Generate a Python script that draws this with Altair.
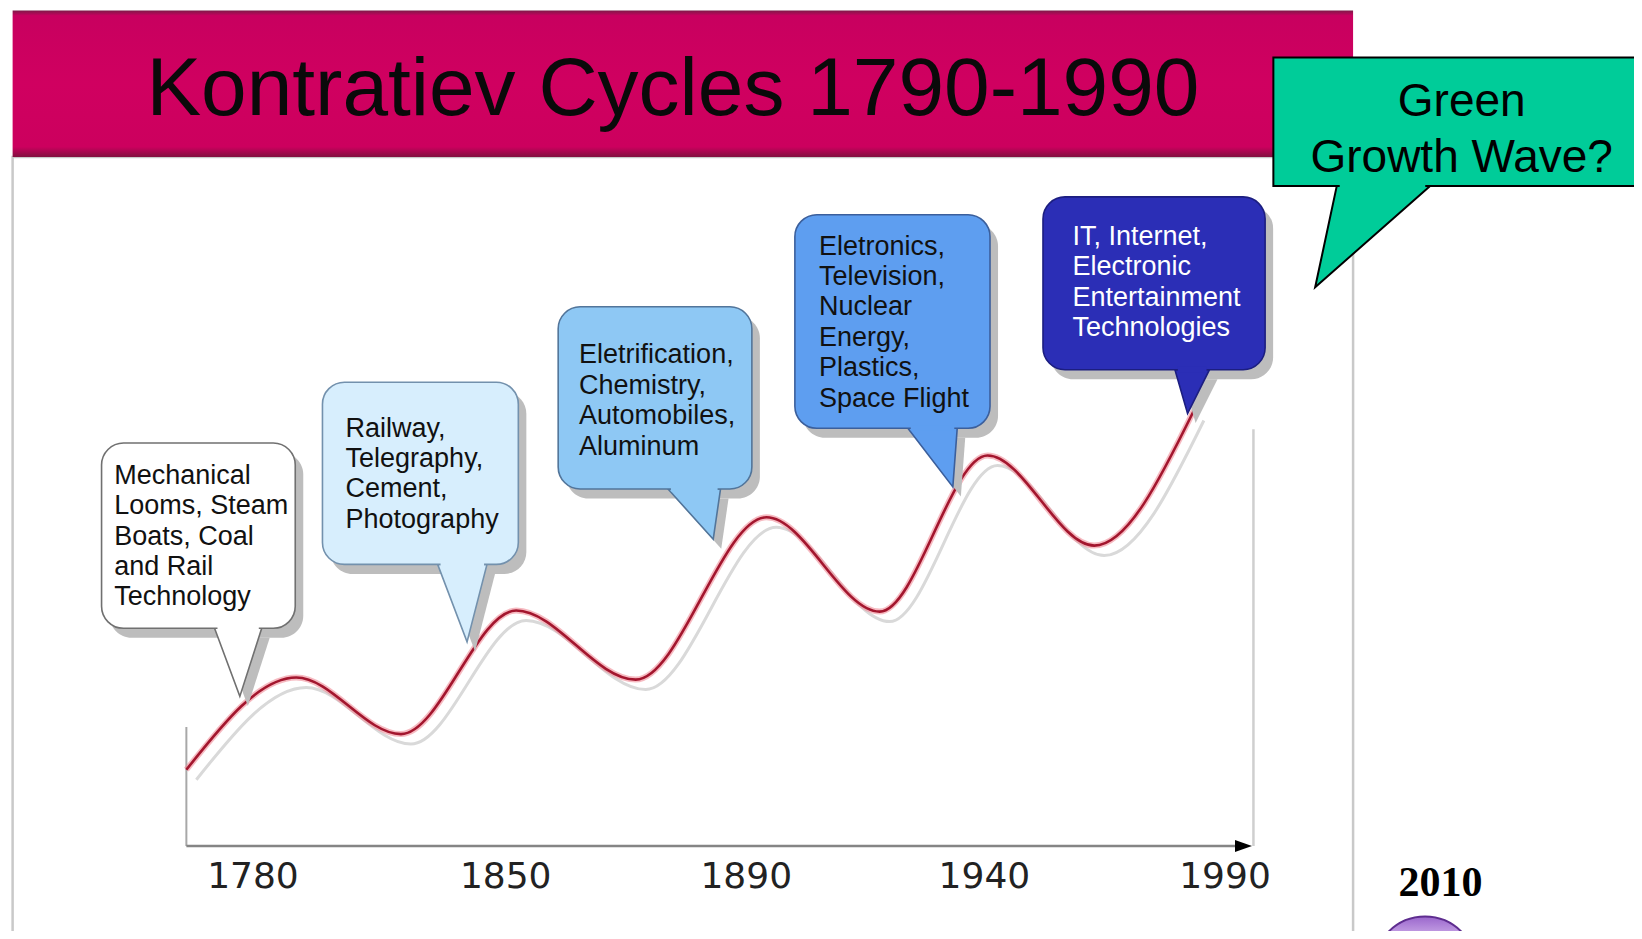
import altair as alt
import pandas as pd

# ---------------- data ----------------
# wave: position along the cycle axis (tick index space) and activity level
wave_pos = [-0.274, 0.178, 0.609, 1.083, 1.575, 2.113, 2.579, 3.023, 3.462, 3.872]
wave_val = [0.763, 1.685, 1.119, 2.355, 1.664, 3.287, 2.344, 3.905, 3.004, 4.355]

tick_pos = [0.0, 1.04, 2.03, 3.01, 4.0]
tick_labels = ["1780", "1850", "1890", "1940", "1990"]

title_text = "Kontratiev Cycles 1790-1990"
wave_texts = [
    ["Mechanical", "Looms, Steam", "Boats, Coal", "and Rail", "Technology"],
    ["Railway,", "Telegraphy,", "Cement,", "Photography"],
    ["Eletrification,", "Chemistry,", "Automobiles,", "Aluminum"],
    ["Eletronics,", "Television,", "Nuclear", "Energy,", "Plastics,", "Space Flight"],
    ["IT, Internet,", "Electronic", "Entertainment", "Technologies"],
]
callout_lines = ["Green", "Growth Wave?"]
year_label = "2010"

# ---------------- annotation layout (in data units) ----------------
box_left = [-0.623, 0.286, 1.256, 2.230, 3.251]
box_right = [0.174, 1.092, 2.053, 3.033, 4.165]
box_top = [4.030, 4.638, 5.392, 6.313, 6.491]
box_bottom = [2.177, 2.816, 3.570, 4.177, 4.763]
tail_left = [-0.158, 0.760, 1.708, 2.695, 3.794]
tail_right = [0.036, 0.963, 1.924, 2.898, 3.936]
tail_tip_x = [-0.054, 0.881, 1.894, 2.880, 3.846]
tail_tip_y = [1.496, 2.041, 3.067, 3.591, 4.324]
text_x = [-0.571, 0.381, 1.342, 2.329, 3.372]
text_y = [3.622, 4.093, 4.826, 5.915, 6.010]
box_fill = ["#ffffff", "#d7eefd", "#8ec8f4", "#5e9ef0", "#2b2eb6"]
box_stroke = ["#707070", "#7391ad", "#52759a", "#3b5f9c", "#1c1e80"]
text_color = ["#111111", "#111111", "#111111", "#111111", "#ffffff"]

# green callout
g_left, g_right, g_top, g_bottom = 4.199, 5.80, 7.884, 6.601
g_tail_left, g_tail_right, g_tip_x, g_tip_y = 4.460, 4.844, 4.371, 5.587
g_text_x, g_text_y = 4.974, 7.300

XS = alt.Scale(domain=[-1.008, 5.683], nice=False, zero=False)
YS = alt.Scale(domain=[-0.85, 8.38], nice=False, zero=False)


def X(f, **kw):
    return alt.X(f, type="quantitative", scale=XS, axis=None, **kw)


def Y(f, **kw):
    return alt.Y(f, type="quantitative", scale=YS, axis=None, **kw)


# ---------------- frame and title band ----------------
frame = alt.Chart(pd.DataFrame({"x0": [-0.989], "x1": [4.527], "y0": [-0.912], "y1": [6.889]})).mark_rect(
    fill="white", stroke="#c9c9c9", strokeWidth=2.5
).encode(x=X("x0"), x2=alt.X2("x1"), y=Y("y0"), y2=alt.Y2("y1"))

band_grad = alt.Gradient(
    gradient="linear",
    stops=[
        alt.GradientStop(offset=0, color="#7d1a48"),
        alt.GradientStop(offset=0.035, color="#c8005f"),
        alt.GradientStop(offset=0.5, color="#d00060"),
        alt.GradientStop(offset=0.93, color="#cc005e"),
        alt.GradientStop(offset=1, color="#80103f"),
    ],
    x1=0, x2=0, y1=0, y2=1,
)
band = alt.Chart(pd.DataFrame({"x0": [-0.989], "x1": [4.527], "y0": [6.889], "y1": [8.355]})).mark_rect(
    fill=band_grad
).encode(x=X("x0"), x2=alt.X2("x1"), y=Y("y0"), y2=alt.Y2("y1"))

title = alt.Chart(pd.DataFrame({"x": [1.728], "y": [7.308], "t": [title_text]})).mark_text(
    font="Liberation Sans", fontSize=82, color="#0a0a0a", align="center", baseline="alphabetic"
).encode(x=X("x"), y=Y("y"), text="t:N")

# ---------------- axes ----------------
axis_df = pd.DataFrame({"x0": [-0.274], "x1": [4.07], "y": [0.0]})
x_axis = alt.Chart(axis_df).mark_rule(color="#858585", strokeWidth=2.5).encode(
    x=X("x0"), x2=alt.X2("x1"), y=Y("y")
)
left_line = alt.Chart(pd.DataFrame({"x": [-0.274], "y0": [0.0], "y1": [1.19]})).mark_rule(
    color="#a8a8a8", strokeWidth=2
).encode(x=X("x"), y=Y("y0"), y2=alt.Y2("y1"))
right_line = alt.Chart(pd.DataFrame({"x": [4.117], "y0": [0.0], "y1": [4.167]})).mark_rule(
    color="#cfcfcf", strokeWidth=2.5
).encode(x=X("x"), y=Y("y0"), y2=alt.Y2("y1"))
arrow = alt.Chart(pd.DataFrame({"x": [4.076], "y": [0.0]})).mark_point(
    shape="M-1,-0.7L1,0L-1,0.7Z", size=289, filled=True, color="black", opacity=1
).encode(x=X("x"), y=Y("y"))

ticks = alt.Chart(pd.DataFrame({"x": tick_pos, "y": [-0.42] * len(tick_pos), "t": tick_labels})).mark_text(
    font="DejaVu Sans", fontSize=36, color="#222222", align="center", baseline="alphabetic"
).encode(x=X("x"), y=Y("y"), text="t:N")

# ---------------- wave ----------------
wave = pd.DataFrame({"u": wave_pos, "v": wave_val})
wave_shadow = alt.Chart(wave).transform_calculate(
    us="datum.u + 0.041", vs="datum.v - 0.10"
).mark_line(color="#d9d9d9", strokeWidth=3, interpolate="monotone").encode(
    x=X("us"), y=Y("vs")
)
wave_halo = alt.Chart(wave).mark_line(
    color="#f08c98", strokeWidth=6, opacity=0.6, interpolate="monotone"
).encode(x=X("u"), y=Y("v"))
wave_core = alt.Chart(wave).mark_line(
    color="#a3162e", strokeWidth=2.6, interpolate="monotone"
).encode(x=X("u"), y=Y("v"))

# ---------------- speech bubbles ----------------
n = len(wave_texts)
boxes = pd.DataFrame({
    "id": list(range(n)), "x0": box_left, "x1": box_right, "y0": box_bottom, "y1": box_top,
    "fill": box_fill, "stroke": box_stroke,
})
tail_rows = []
for i in range(n):
    tail_rows.append({"id": i, "y": box_bottom[i], "xa": tail_left[i], "xb": tail_right[i],
                      "fill": box_fill[i], "stroke": box_stroke[i]})
    tail_rows.append({"id": i, "y": tail_tip_y[i], "xa": tail_tip_x[i], "xb": tail_tip_x[i],
                      "fill": box_fill[i], "stroke": box_stroke[i]})
tails = pd.DataFrame(tail_rows)
covers = pd.DataFrame({
    "x0": [a + 0.012 for a in tail_left], "x1": [b - 0.012 for b in tail_right],
    "y0": [b - 0.025 for b in box_bottom], "y1": [b + 0.03 for b in box_bottom],
    "fill": box_fill,
})

SDX, SDY = 0.033, -0.095
box_shadow = alt.Chart(boxes).transform_calculate(
    a=f"datum.x0 + {SDX}", b=f"datum.x1 + {SDX}", c=f"datum.y0 + {SDY}", d=f"datum.y1 + {SDY}"
).mark_rect(cornerRadius=22, color="#bdbdbd").encode(
    x=X("a"), x2=alt.X2("b"), y=Y("c"), y2=alt.Y2("d"), detail="id:N"
)
tail_shadow = alt.Chart(tails).transform_calculate(
    a=f"datum.xa + {SDX}", b=f"datum.xb + {SDX}", c=f"datum.y + {SDY}"
).mark_area(orient="horizontal", color="#bdbdbd").encode(
    y=Y("c"), x=X("a", stack=False), x2=alt.X2("b"), detail="id:N"
)
tail_marks = alt.Chart(tails).mark_area(orient="horizontal", strokeWidth=1.6).encode(
    y=Y("y"), x=X("xa", stack=False), x2=alt.X2("xb"), detail="id:N",
    fill=alt.Fill("fill:N", scale=None), stroke=alt.Stroke("stroke:N", scale=None),
)
box_marks = alt.Chart(boxes).mark_rect(cornerRadius=22, strokeWidth=1.6).encode(
    x=X("x0"), x2=alt.X2("x1"), y=Y("y0"), y2=alt.Y2("y1"), detail="id:N",
    fill=alt.Fill("fill:N", scale=None), stroke=alt.Stroke("stroke:N", scale=None),
)
cover_marks = alt.Chart(covers).mark_rect(strokeWidth=0).encode(
    x=X("x0"), x2=alt.X2("x1"), y=Y("y0"), y2=alt.Y2("y1"),
    fill=alt.Fill("fill:N", scale=None),
)
bubble_text = alt.Chart(pd.DataFrame({
    "x": text_x, "y": text_y, "t": ["\n".join(t) for t in wave_texts], "c": text_color,
})).mark_text(
    font="Liberation Sans", fontSize=27, lineHeight=30.4, lineBreak="\n",
    align="left", baseline="alphabetic",
).encode(x=X("x"), y=Y("y"), text="t:N", color=alt.Color("c:N", scale=None))

# ---------------- green callout ----------------
GREEN = "#00cc99"
g_tail = alt.Chart(pd.DataFrame({
    "y": [g_bottom, g_tip_y], "xa": [g_tail_left, g_tip_x], "xb": [g_tail_right, g_tip_x],
})).mark_area(orient="horizontal", fill=GREEN, stroke="black", strokeWidth=2).encode(
    y=Y("y"), x=X("xa", stack=False), x2=alt.X2("xb")
)
g_box = alt.Chart(pd.DataFrame({"x0": [g_left], "x1": [g_right], "y0": [g_bottom], "y1": [g_top]})).mark_rect(
    fill=GREEN, stroke="black", strokeWidth=2
).encode(x=X("x0"), x2=alt.X2("x1"), y=Y("y0"), y2=alt.Y2("y1"))
g_cover = alt.Chart(pd.DataFrame({
    "x0": [g_tail_left + 0.012], "x1": [g_tail_right - 0.02], "y0": [g_bottom - 0.03], "y1": [g_bottom + 0.03],
})).mark_rect(fill=GREEN, strokeWidth=0).encode(x=X("x0"), x2=alt.X2("x1"), y=Y("y0"), y2=alt.Y2("y1"))
g_text = alt.Chart(pd.DataFrame({"x": [g_text_x], "y": [g_text_y], "t": ["\n".join(callout_lines)]})).mark_text(
    font="Liberation Sans", fontSize=46, lineHeight=55.7, lineBreak="\n", align="center",
    baseline="alphabetic", color="black",
).encode(x=X("x"), y=Y("y"), text="t:N")

# ---------------- 2010 + globe ----------------
year = alt.Chart(pd.DataFrame({"x": [4.887], "y": [-0.50], "t": [year_label]})).mark_text(
    font="Liberation Serif", fontWeight="bold", fontSize=42, color="black", align="center", baseline="alphabetic"
).encode(x=X("x"), y=Y("y"), text="t:N")
globe_grad = alt.Gradient(
    gradient="linear",
    stops=[alt.GradientStop(offset=0, color="#9a66cc"), alt.GradientStop(offset=0.18, color="#c7a4e6"),
           alt.GradientStop(offset=1, color="#7a3fb0")],
    x1=0, x2=0, y1=0, y2=1,
)
globe = alt.Chart(pd.DataFrame({"x": [4.823], "y": [-1.22]})).mark_point(
    shape="circle", filled=True, size=10600, fill=globe_grad, stroke="#5e2d8f", strokeWidth=2, opacity=1
).encode(x=X("x"), y=Y("y"))

chart = alt.layer(
    frame, band, title,
    left_line, right_line, x_axis, arrow, ticks,
    wave_shadow, wave_halo, wave_core,
    box_shadow, tail_shadow, tail_marks, box_marks, cover_marks, bubble_text,
    g_tail, g_box, g_cover, g_text,
    year, globe,
).properties(width=1626, height=923, padding=0, autosize="none").configure_view(stroke=None)

chart.save("out.html", embed_options={"renderer": "svg", "actions": False})
